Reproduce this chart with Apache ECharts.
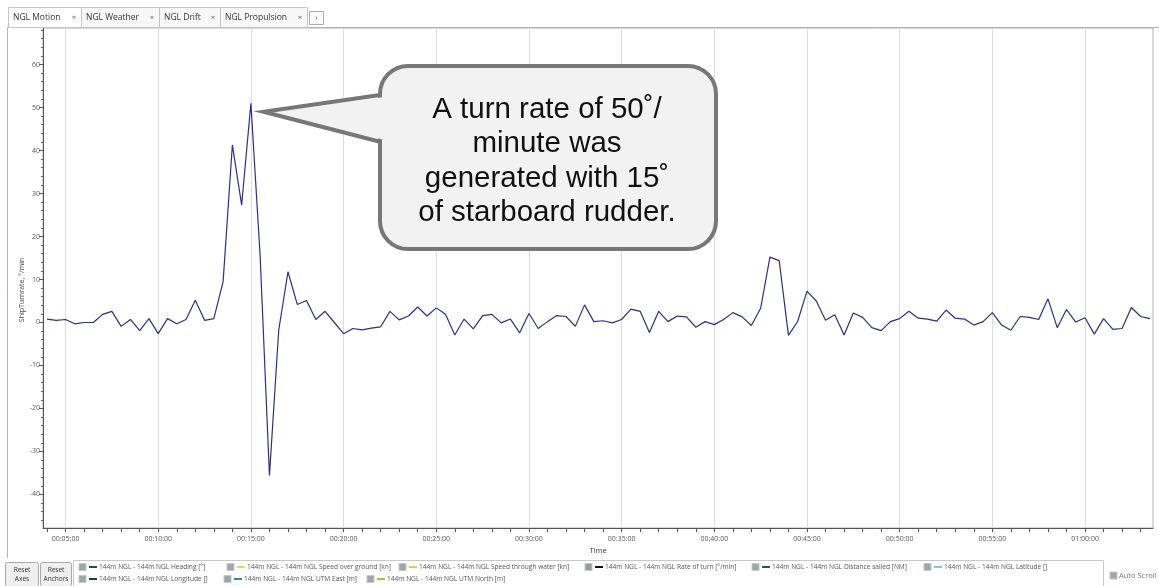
<!DOCTYPE html>
<html><head><meta charset="utf-8">
<script src="https://cdn.jsdelivr.net/npm/echarts@6/dist/echarts.min.js"></script>
<style>html,body{margin:0;padding:0;background:#fff}#c{width:1159px;height:586px}</style>
</head><body><div id="c"></div>
<script>
// ---- data ----
const timeSeconds = [
  240,270,300,330,360,390,420,450,480,510,540,570,600,630,660,690,720,750,780,810,
  840,870,900,930,960,990,1020,1050,1080,1110,1140,1170,1200,1230,1260,1290,1320,1350,1380,1410,
  1440,1470,1500,1530,1560,1590,1620,1650,1680,1710,1740,1770,1800,1830,1860,1890,1920,1950,1980,2010,
  2040,2070,2100,2130,2160,2190,2220,2250,2280,2310,2340,2370,2400,2430,2460,2490,2520,2550,2580,2610,
  2640,2670,2700,2730,2760,2790,2820,2850,2880,2910,2940,2970,3000,3030,3060,3090,3120,3150,3180,3210,
  3240,3270,3300,3330,3360,3390,3420,3450,3480,3510,3540,3570,3600,3630,3660,3690,3720,3750,3780,3810
];
const turnRate = [
  0.8,0.5,0.7,-0.3,0,0,1.9,2.6,-0.9,0.7,-1.9,0.9,-2.6,0.9,-0.3,0.7,5.2,0.5,0.9,9.5,
  41.3,27.3,51.0,15.3,-35.6,-1.8,11.8,4.2,5.1,0.7,2.6,0,-2.6,-1.4,-1.7,-1.3,-1.0,2.6,0.6,1.5,
  3.6,1.5,3.4,1.9,-2.9,0.8,-1.5,1.6,1.9,-0.1,0.8,-2.4,2.1,-1.4,0.2,1.6,1.4,-0.9,4.1,0.2,
  0.4,-0.1,0.7,3.1,2.6,-2.3,2.6,0.2,1.5,1.3,-1.1,0.2,-0.5,0.7,2.3,1.3,-0.7,3.3,15.2,14.4,
  -3.0,0.3,7.3,5.0,0.5,1.8,-2.9,2.2,1.2,-1.2,-1.9,0.2,0.9,2.6,1.0,0.8,0.3,2.9,1.0,0.8,
  -0.6,0.2,2.3,-0.6,-1.8,1.4,1.2,0.7,5.5,-1.2,3.0,0.1,1.1,-2.7,0.9,-1.6,-1.4,3.5,1.4,0.9
];
const yTickValues = [-40,-30,-20,-10,0,10,20,30,40,50,60];
const yMinorTickValues = [-46,-44,-42,-38,-36,-34,-32,-28,-26,-24,-22,-18,-16,-14,-12,-8,-6,-4,-2,
  2,4,6,8,12,14,16,18,22,24,26,28,32,34,36,38,42,44,46,48,52,54,56,58,62,64,66,68];
const xLabelSeconds = [300,600,900,1200,1500,1800,2100,2400,2700,3000,3300,3600];
const xMinorTickSeconds = [240,300,360,420,480,540,600,660,720,780,840,900,960,1020,1080,1140,1200,
  1260,1320,1380,1440,1500,1560,1620,1680,1740,1800,1860,1920,1980,2040,2100,2160,2220,2280,2340,2400,
  2460,2520,2580,2640,2700,2760,2820,2880,2940,3000,3060,3120,3180,3240,3300,3360,3420,3480,3540,3600,
  3660,3720,3780];
const tabLabels = ['NGL Motion','NGL Weather','NGL Drift','NGL Propulsion'];
const legendLabels = [
  '144m NGL - 144m NGL Heading [°]',
  '144m NGL - 144m NGL Speed over ground [kn]',
  '144m NGL - 144m NGL Speed through water [kn]',
  '144m NGL - 144m NGL Rate of turn [°/min]',
  '144m NGL - 144m NGL Distance sailed [NM]',
  '144m NGL - 144m NGL Latitude []',
  '144m NGL - 144m NGL Longitude []',
  '144m NGL - 144m NGL UTM East [m]',
  '144m NGL - 144m NGL UTM North [m]'
];
const calloutText = 'A turn rate of 50˚/\nminute was\ngenerated with 15˚\nof starboard rudder.';
const yAxisTitle = 'ShipTurnrate, °/min';
const xAxisTitle = 'Time';

// ---- layout / style ----
const legendColors = ['#1f4a5c','#e6d84c','#e2cf3a','#111111','#2a5262','#86ccb4','#1f3a5c','#2d8aa6','#a9c23a'];
const legendPos = [[82,567],[230,567],[402,567],[588,567],[755,567],[927,567],[82,579],[227,579],[370,579]];
const tabPos = [[8,81],[81,159],[159,220],[220,307]];
const FONT = '"Open Sans", "Noto Sans", sans-serif';

function fmt(s){
  const h = Math.floor(s/3600), m = Math.floor((s%3600)/60), sec = s%60;
  const p = n => (n<10?'0':'')+n;
  return p(h)+':'+p(m)+':'+p(sec);
}

const graphics = [];
// panel border
graphics.push({type:'polyline', shape:{points:[[7.5,558],[7.5,27.5],[1159,27.5]]}, style:{fill:null, stroke:'#b5b5b5', lineWidth:1}, z:1});
// tabs
tabLabels.forEach((t,i)=>{
  const [x0,x1] = tabPos[i];
  graphics.push({type:'rect', shape:{x:x0+0.5,y:7.5,width:x1-x0,height:20}, style:{fill:i===0?'#ffffff':'#f7f7f7', stroke:'#c4c4c4', lineWidth:1}, z:2});
  graphics.push({type:'text', x:x0+5, y:17.5, style:{text:t, font:'8.5px '+FONT, fill:'#333', verticalAlign:'middle'}, z:3});
  graphics.push({type:'text', x:x1-7, y:17.5, style:{text:'×', font:'8px '+FONT, fill:'#666', align:'center', verticalAlign:'middle'}, z:3});
});
graphics.push({type:'rect', shape:{x:309.5,y:11.5,width:14,height:13}, style:{fill:'#fafafa', stroke:'#aaa', lineWidth:1}, z:2});
graphics.push({type:'text', x:316.5, y:18, style:{text:'›', font:'8px '+FONT, fill:'#555', align:'center', verticalAlign:'middle'}, z:3});
// y axis title
graphics.push({type:'text', x:22, y:290, rotation:Math.PI/2, style:{text:yAxisTitle, font:'7px '+FONT, fill:'#444', align:'center', verticalAlign:'middle'}, z:3});
// bottom buttons
[['Reset\nAxes',5,38],['Reset\nAnchors',40,71]].forEach(b=>{
  graphics.push({type:'rect', shape:{x:b[1]+0.5,y:562.5,width:b[2]-b[1],height:24,r:2}, style:{fill:'#efefef', stroke:'#a9a9a9', lineWidth:1}, z:2});
  graphics.push({type:'text', x:(b[1]+b[2])/2+0.5, y:575, style:{text:b[0], font:'6.5px '+FONT, fill:'#333', align:'center', verticalAlign:'middle', lineHeight:9}, z:3});
});
// legend box
graphics.push({type:'rect', shape:{x:73.5,y:560.5,width:1030,height:30}, style:{fill:'#fff', stroke:'#c8c8c8', lineWidth:1}, z:1});
legendLabels.forEach((t,i)=>{
  const [x,y] = legendPos[i];
  graphics.push({type:'rect', shape:{x:x-3,y:y-3.5,width:7,height:7}, style:{fill:i===3?'#8f9f9f':'#9aa8a8', stroke:'#c0c8c8', lineWidth:1}, z:3});
  graphics.push({type:'line', shape:{x1:x+7,y1:y,x2:x+15,y2:y}, style:{stroke:legendColors[i], lineWidth:2}, z:3});
  graphics.push({type:'text', x:x+17, y:y, style:{text:t, font:'6.6px '+FONT, fill:'#555', verticalAlign:'middle'}, z:3});
});
// auto scroll
graphics.push({type:'rect', shape:{x:1110,y:572,width:7,height:7}, style:{fill:'#9aa8a8', stroke:'#c0c8c8', lineWidth:1}, z:3});
graphics.push({type:'text', x:1119, y:575.5, style:{text:'Auto Scroll', font:'7.5px '+FONT, fill:'#777', verticalAlign:'middle'}, z:3});
// callout
graphics.push({type:'rect', shape:{x:380,y:66,width:336,height:183,r:28}, style:{fill:'#f2f2f2', stroke:'#777777', lineWidth:4}, z:100});
graphics.push({type:'polygon', shape:{points:[[385,97],[266,111.7],[385,140]]}, style:{fill:'#f2f2f2', stroke:null}, z:101});
graphics.push({type:'polyline', shape:{points:[[380,95],[263.5,111.7],[380,141.7]]}, style:{fill:null, stroke:'#777777', lineWidth:4, lineJoin:'miter'}, z:102});
graphics.push({type:'text', x:547, y:92.5, style:{text:calloutText, font:'29.5px "Liberation Sans", Arial, sans-serif', fill:'#111', align:'center', verticalAlign:'top', lineHeight:34.5}, z:103});

const chart = echarts.init(document.getElementById('c'), null, {renderer:'canvas'});
chart.setOption({
  animation:false,
  backgroundColor:'#ffffff',
  grid:{left:43, right:6, top:28, bottom:58, show:true, borderColor:'#b0b0b0', borderWidth:1, containLabel:false},
  xAxis:[{
    type:'value', min:227, max:3820, position:'bottom',
    name:xAxisTitle, nameLocation:'middle', nameGap:17,
    nameTextStyle:{fontFamily:FONT, fontSize:7.5, color:'#333'},
    axisLine:{show:true, onZero:false, lineStyle:{color:'#555', width:1}},
    axisTick:{show:true, length:4, inside:false, customValues:xMinorTickSeconds, lineStyle:{color:'#555'}},
    axisLabel:{show:true, customValues:xLabelSeconds, formatter:v=>fmt(v), fontFamily:FONT, fontSize:7, color:'#555', margin:7},
    splitLine:{show:false}
  },{
    type:'value', min:227, max:3820, position:'bottom',
    axisLine:{show:false, onZero:false},
    axisTick:{show:false, customValues:xLabelSeconds},
    axisLabel:{show:false},
    splitLine:{show:true, lineStyle:{color:'#dcdcdc', width:1}}
  }],
  yAxis:[{
    type:'value', min:-47.8, max:68.5, position:'left',
    axisLine:{show:true, onZero:false, lineStyle:{color:'#555', width:1}},
    axisTick:{show:true, length:4, customValues:yTickValues, lineStyle:{color:'#555'}},
    axisLabel:{show:true, customValues:yTickValues, fontFamily:FONT, fontSize:7, color:'#555', margin:3},
    splitLine:{show:false}
  },{
    type:'value', min:-47.8, max:68.5, position:'left',
    axisLine:{show:false, onZero:false},
    axisTick:{show:true, length:2, customValues:yMinorTickValues, lineStyle:{color:'#666'}},
    axisLabel:{show:false},
    splitLine:{show:false}
  }],
  series:[{
    name:legendLabels[3], type:'line', xAxisIndex:0, yAxisIndex:0,
    data:timeSeconds.map((t,i)=>[t, turnRate[i]]),
    showSymbol:false, symbol:'none',
    lineStyle:{color:'#2d2d90', width:1.2},
    z:10
  }],
  graphic:graphics
});
</script>
</body></html>
